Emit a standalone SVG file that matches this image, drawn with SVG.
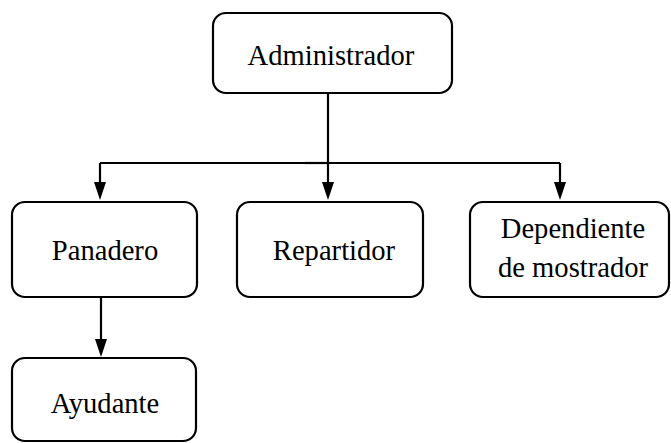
<svg xmlns="http://www.w3.org/2000/svg" width="671" height="443" viewBox="0 0 671 443">
<style>
.box{fill:#fff;stroke:#000;stroke-width:2.2}
.t{font-family:'Liberation Serif','Times New Roman',Times,'DejaVu Serif',serif;font-size:28.6px;fill:#000;text-anchor:middle}
.c{fill:none;stroke:#000;stroke-width:2.2}
</style>
<g id="connectors">
<path class="c" d="M328,93 V163"/>
<path class="c" d="M100,163 H560"/>
<path class="c" d="M305,163 H328" stroke-width="3.5"/>
<path d="M100,163 V184 M328,163 V184 M560,163 V184 M101,297 V340" class="c"/>
<path d="M94,182 L106,182 L100,200 Z M322,182 L334,182 L328,200 Z M554,182 L566,182 L560,200 Z M95,339 L107,339 L101,357 Z" fill="#000"/>
</g>
<g id="administrador"><rect class="box" x="213" y="13" width="239" height="80" rx="13"/><text class="t" x="331" y="65">Administrador</text></g>
<g id="panadero"><rect class="box" x="12" y="202" width="185" height="95" rx="13"/><text class="t" x="105" y="260">Panadero</text></g>
<g id="repartidor"><rect class="box" x="237" y="202" width="186" height="95" rx="13"/><text class="t" x="334" y="260">Repartidor</text></g>
<g id="dependiente"><rect class="box" x="470" y="202" width="199" height="95" rx="13"/><text class="t" x="573" y="238">Dependiente</text><text class="t" x="573" y="277">de mostrador</text></g>
<g id="ayudante"><rect class="box" x="12" y="358" width="184" height="83" rx="13"/><text class="t" x="105" y="413">Ayudante</text></g>
</svg>
